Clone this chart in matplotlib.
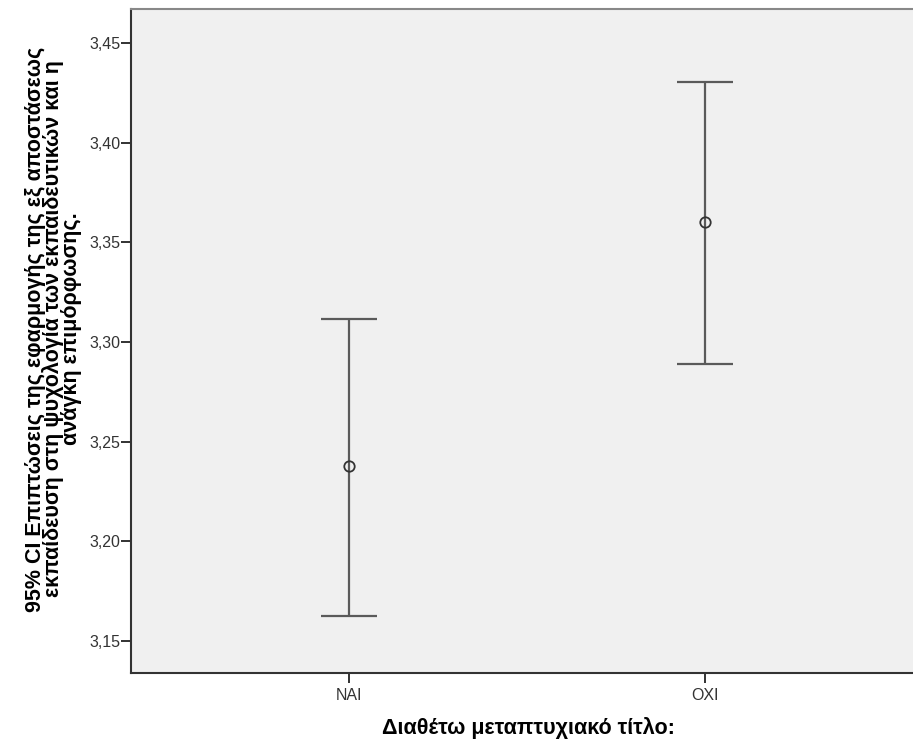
import matplotlib
matplotlib.use("Agg")
import matplotlib.pyplot as plt

plt.rcParams['font.family'] = ['Liberation Sans', 'DejaVu Sans']

# data
groups = ['NAI', 'OXI']
means = [3.2378, 3.3599]
lower = [3.1625, 3.2890]
upper = [3.3117, 3.4304]
yticks = [3.15, 3.20, 3.25, 3.30, 3.35, 3.40, 3.45]

fig = plt.figure(figsize=(9.13, 7.42), dpi=100)
ax = fig.add_axes([0.144, 0.093, 0.856, 0.895])
ax.set_facecolor('#f0f0f0')

x = list(range(len(groups)))
err_lo = [m - l for m, l in zip(means, lower)]
err_hi = [u - m for m, u in zip(means, upper)]
ax.errorbar(x, means, yerr=[err_lo, err_hi], fmt='none', ecolor='#5a5a5a',
            elinewidth=1.6, capsize=20.5, capthick=1.6)
ax.plot(x, means, 'o', ms=7.5, mfc='none', mec='#333333', mew=1.3, zorder=5)

ax.set_xlim(-0.612, 1.583)
ax.set_ylim(3.134, 3.467)
ax.set_xticks(x)
ax.set_xticklabels(groups)
ax.set_yticks(yticks)
ax.set_yticklabels([f'{v:.2f}'.replace('.', ',') for v in yticks])
ax.tick_params(axis='both', direction='out', length=7, width=1.3,
               color='#222222', labelsize=11.5, labelcolor='#333333')
ax.tick_params(axis='y', pad=1)
ax.tick_params(axis='x', pad=4)

for side in ['left', 'bottom']:
    ax.spines[side].set_color('#333333')
    ax.spines[side].set_linewidth(1.5)
ax.spines['top'].set_color('#888888')
ax.spines['top'].set_linewidth(1.5)
ax.spines['right'].set_visible(False)

ax.set_xlabel('Διαθέτω μεταπτυχιακό τίτλο:', fontsize=15.5, fontweight='bold')
ax.xaxis.set_label_coords(0.5075, -0.066)
ax.set_ylabel('95% CI Επιπτώσεις της εφαρμογής της εξ αποστάσεως\n'
              'εκπαίδευση στη ψυχολογία των εκπαιδευτικών και η\n'
              'ανάγκη επιμόρφωσης.', fontsize=15.5, fontweight='bold',
              linespacing=0.8)
ax.yaxis.set_label_coords(-0.063, 0.518)

fig.savefig('out.png', dpi=100)
